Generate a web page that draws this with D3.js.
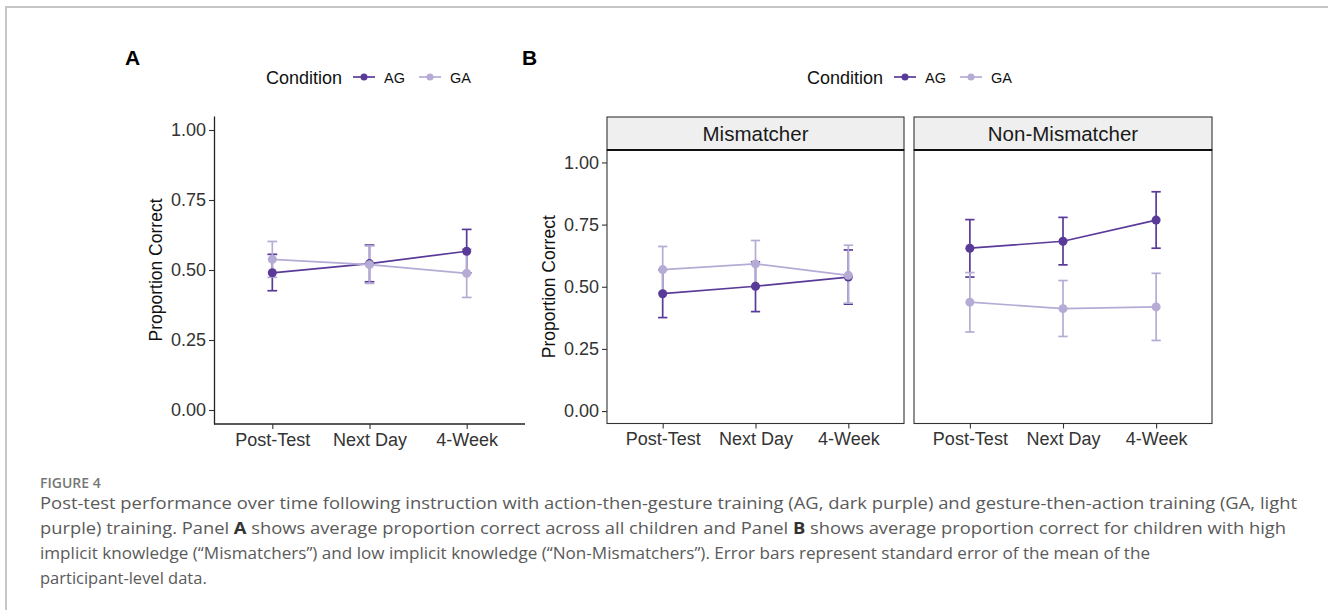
<!DOCTYPE html>
<html>
<head>
<meta charset="utf-8">
<script src="https://cdn.jsdelivr.net/npm/d3@7"></script>
<style>
  body { margin: 0; background: #fff; }
  text { font-family: "Liberation Sans", Arial, sans-serif; }
</style>
</head>
<body>
<div id="chart"></div>
<script>
// categories
const timepoints = ["Post-Test", "Next Day", "4-Week"];
const conditions = ["AG", "GA"];
const facets = ["Mismatcher", "Non-Mismatcher"];
const yTicks = [0, 0.25, 0.5, 0.75, 1];

// Panel A: all children
const allMeanAG = [0.490, 0.523, 0.567];
const allLowAG  = [0.426, 0.458, 0.490];
const allHighAG = [0.556, 0.589, 0.645];
const allMeanGA = [0.538, 0.519, 0.488];
const allLowGA  = [0.474, 0.452, 0.402];
const allHighGA = [0.602, 0.586, 0.574];

// Panel B: Mismatchers
const mmMeanAG = [0.472, 0.502, 0.539];
const mmLowAG  = [0.376, 0.400, 0.430];
const mmHighAG = [0.568, 0.600, 0.648];
const mmMeanGA = [0.569, 0.592, 0.546];
const mmLowGA  = [0.476, 0.498, 0.434];
const mmHighGA = [0.662, 0.686, 0.667];

// Panel B: Non-Mismatchers
const nmMeanAG = [0.655, 0.683, 0.768];
const nmLowAG  = [0.539, 0.588, 0.655];
const nmHighAG = [0.770, 0.779, 0.882];
const nmMeanGA = [0.438, 0.412, 0.419];
const nmLowGA  = [0.318, 0.300, 0.284];
const nmHighGA = [0.557, 0.525, 0.554];

const colors = { AG: "#5a3a98", GA: "#b5abd5" };

function series(mean, low, high) {
  return timepoints.map((t, i) => ({ t, m: mean[i], lo: low[i], hi: high[i] }));
}
const panelAData = { AG: series(allMeanAG, allLowAG, allHighAG), GA: series(allMeanGA, allLowGA, allHighGA) };
const facetData = {
  "Mismatcher": { AG: series(mmMeanAG, mmLowAG, mmHighAG), GA: series(mmMeanGA, mmLowGA, mmHighGA) },
  "Non-Mismatcher": { AG: series(nmMeanAG, nmLowAG, nmHighAG), GA: series(nmMeanGA, nmLowGA, nmHighGA) }
};

const W = 1328, H = 610;
const svg = d3.select("#chart").append("svg")
  .attr("width", W).attr("height", H)
  .attr("viewBox", `0 0 ${W} ${H}`);

// figure frame
svg.append("path")
  .attr("d", `M6,${H} L6,7 L${W},7`)
  .attr("fill", "none").attr("stroke", "#c6c6c6").attr("stroke-width", 2);

// draw error bars, lines and points of one panel
function drawSeries(g, data, x, y) {
  const capW = x.step() * 0.1;
  conditions.forEach(c => {
    const eb = g.append("g").selectAll("g").data(data[c]).enter().append("g")
      .attr("stroke", colors[c]).attr("stroke-width", 1.7);
    eb.append("line").attr("x1", d => x(d.t)).attr("x2", d => x(d.t))
      .attr("y1", d => y(d.lo)).attr("y2", d => y(d.hi));
    eb.append("line").attr("x1", d => x(d.t) - capW / 2).attr("x2", d => x(d.t) + capW / 2)
      .attr("y1", d => y(d.lo)).attr("y2", d => y(d.lo));
    eb.append("line").attr("x1", d => x(d.t) - capW / 2).attr("x2", d => x(d.t) + capW / 2)
      .attr("y1", d => y(d.hi)).attr("y2", d => y(d.hi));
  });
  conditions.forEach(c => {
    g.append("path").datum(data[c])
      .attr("fill", "none").attr("stroke", colors[c]).attr("stroke-width", 1.7)
      .attr("d", d3.line().x(d => x(d.t)).y(d => y(d.m)));
    g.append("g").selectAll("circle").data(data[c]).enter().append("circle")
      .attr("cx", d => x(d.t)).attr("cy", d => y(d.m)).attr("r", 4.5)
      .attr("fill", colors[c]);
  });
}

function styleAxis(ax) {
  ax.selectAll(".tick text").attr("fill", "#333").style("font-size", "18px");
  ax.selectAll(".tick line").attr("stroke", "#333").attr("stroke-width", 1.1);
}

function legend(x0, y0) {
  const lg = svg.append("g").attr("transform", `translate(${x0},${y0})`);
  lg.append("text").attr("x", 0).attr("y", 6.5).style("font-size", "18px").attr("fill", "#111").text("Condition");
  const keyX = [87, 153];
  conditions.forEach((c, i) => {
    lg.append("line").attr("x1", keyX[i]).attr("x2", keyX[i] + 22).attr("y1", 0).attr("y2", 0)
      .attr("stroke", colors[c]).attr("stroke-width", 1.7);
    lg.append("circle").attr("cx", keyX[i] + 11).attr("cy", 0).attr("r", 3.5).attr("fill", colors[c]);
    lg.append("text").attr("x", keyX[i] + 31).attr("y", 5.5).style("font-size", "14.5px").attr("fill", "#111").text(c);
  });
}

const yTitle = (x, yMid) => svg.append("text")
  .attr("transform", `translate(${x},${yMid}) rotate(-90)`)
  .attr("text-anchor", "middle").style("font-size", "17.5px").attr("fill", "#111")
  .text("Proportion Correct");

// ---------- Panel A ----------
const axL = 214, axR = 525, axTop = 116, axBot = 424;
const xA = d3.scalePoint().domain(timepoints).range([axL, axR]).padding(0.6);
const yA = d3.scaleLinear().domain([-0.05, 1.05]).range([axBot, axTop]);

svg.append("text").attr("x", 125).attr("y", 65).style("font-size", "21px").style("font-weight", "bold").text("A");
legend(266, 77);

const gA = svg.append("g");
drawSeries(gA, panelAData, xA, yA);

const yAxA = svg.append("g").attr("transform", `translate(${axL},0)`)
  .call(d3.axisLeft(yA).tickValues(yTicks).tickFormat(d3.format(".2f")).tickSize(5).tickSizeOuter(0).tickPadding(3));
yAxA.select(".domain").attr("stroke", "#222").attr("stroke-width", 1.3);
styleAxis(yAxA);
const xAxA = svg.append("g").attr("transform", `translate(0,${axBot})`)
  .call(d3.axisBottom(xA).tickSize(5).tickSizeOuter(0).tickPadding(4));
xAxA.select(".domain").attr("stroke", "#222").attr("stroke-width", 1.3)
  .attr("d", `M${axL},0H${axR}`);
styleAxis(xAxA);
yTitle(162, (axTop + axBot) / 2);

// ---------- Panel B ----------
svg.append("text").attr("x", 522).attr("y", 65).style("font-size", "21px").style("font-weight", "bold").text("B");
legend(807, 77);

const stripTop = 117, pTop = 150, pBot = 423.5;
const facetX = [[607, 904], [914, 1212]];
const yB = d3.scaleLinear().domain([-0.05, 1.05]).range([pBot, pTop]);

facets.forEach((f, i) => {
  const [l, r] = facetX[i];
  const xB = d3.scalePoint().domain(timepoints).range([l, r]).padding(0.6);
  // strip
  svg.append("rect").attr("x", l).attr("y", stripTop).attr("width", r - l).attr("height", pTop - stripTop)
    .attr("fill", "#efefef").attr("stroke", "#333").attr("stroke-width", 1.1);
  svg.append("text").attr("x", (l + r) / 2).attr("y", stripTop + 24).attr("text-anchor", "middle")
    .style("font-size", "20.5px").attr("fill", "#1a1a1a").text(f);
  const g = svg.append("g");
  drawSeries(g, facetData[f], xB, yB);
  // panel border
  svg.append("rect").attr("x", l).attr("y", pTop).attr("width", r - l).attr("height", pBot - pTop)
    .attr("fill", "none").attr("stroke", "#333").attr("stroke-width", 1.1);
  svg.append("line").attr("x1", l).attr("x2", r).attr("y1", pTop).attr("y2", pTop)
    .attr("stroke", "#111").attr("stroke-width", 2);
  const xAx = svg.append("g").attr("transform", `translate(0,${pBot})`)
    .call(d3.axisBottom(xB).tickSize(5).tickSizeOuter(0).tickPadding(4));
  xAx.select(".domain").remove();
  styleAxis(xAx);
  if (i === 0) {
    const yAx = svg.append("g").attr("transform", `translate(${l},0)`)
      .call(d3.axisLeft(yB).tickValues(yTicks).tickFormat(d3.format(".2f")).tickSize(5).tickSizeOuter(0).tickPadding(3));
    yAx.select(".domain").remove();
    styleAxis(yAx);
  }
});
yTitle(555, (pTop + pBot) / 2);

// ---------- Caption ----------
const cap = svg.append("g").attr("transform", "translate(40,0)");
cap.append("text").attr("x", 0).attr("y", 488)
  .style("font-family", "'Open Sans', sans-serif").style("font-size", "14px").style("font-weight", "600")
  .attr("fill", "#777").text("FIGURE 4");

const captionLines = [
  [["Post-test performance over time following instruction with action-then-gesture training (AG, dark purple) and gesture-then-action training (GA, light", false]],
  [["purple) training. Panel ", false], ["A", true], [" shows average proportion correct across all children and Panel ", false], ["B", true], [" shows average proportion correct for children with high", false]],
  [["implicit knowledge (\u201cMismatchers\u201d) and low implicit knowledge (\u201cNon-Mismatchers\u201d). Error bars represent standard error of the mean of the", false]],
  [["participant-level data.", false]]
];
const lineWidths = [1257, 1246, 1110, null];
captionLines.forEach((parts, i) => {
  const t = cap.append("text").attr("x", 0).attr("y", 509 + i * 25)
    .style("font-family", "'Open Sans', sans-serif").style("font-size", "16.5px").attr("fill", "#5a5a5a");
  parts.forEach(([s, b]) => {
    t.append("tspan").style("font-weight", b ? "bold" : "normal").attr("fill", b ? "#333" : "#5a5a5a").text(s);
  });
  if (lineWidths[i]) t.attr("textLength", lineWidths[i]).attr("lengthAdjust", "spacingAndGlyphs");
});
</script>
</body>
</html>
